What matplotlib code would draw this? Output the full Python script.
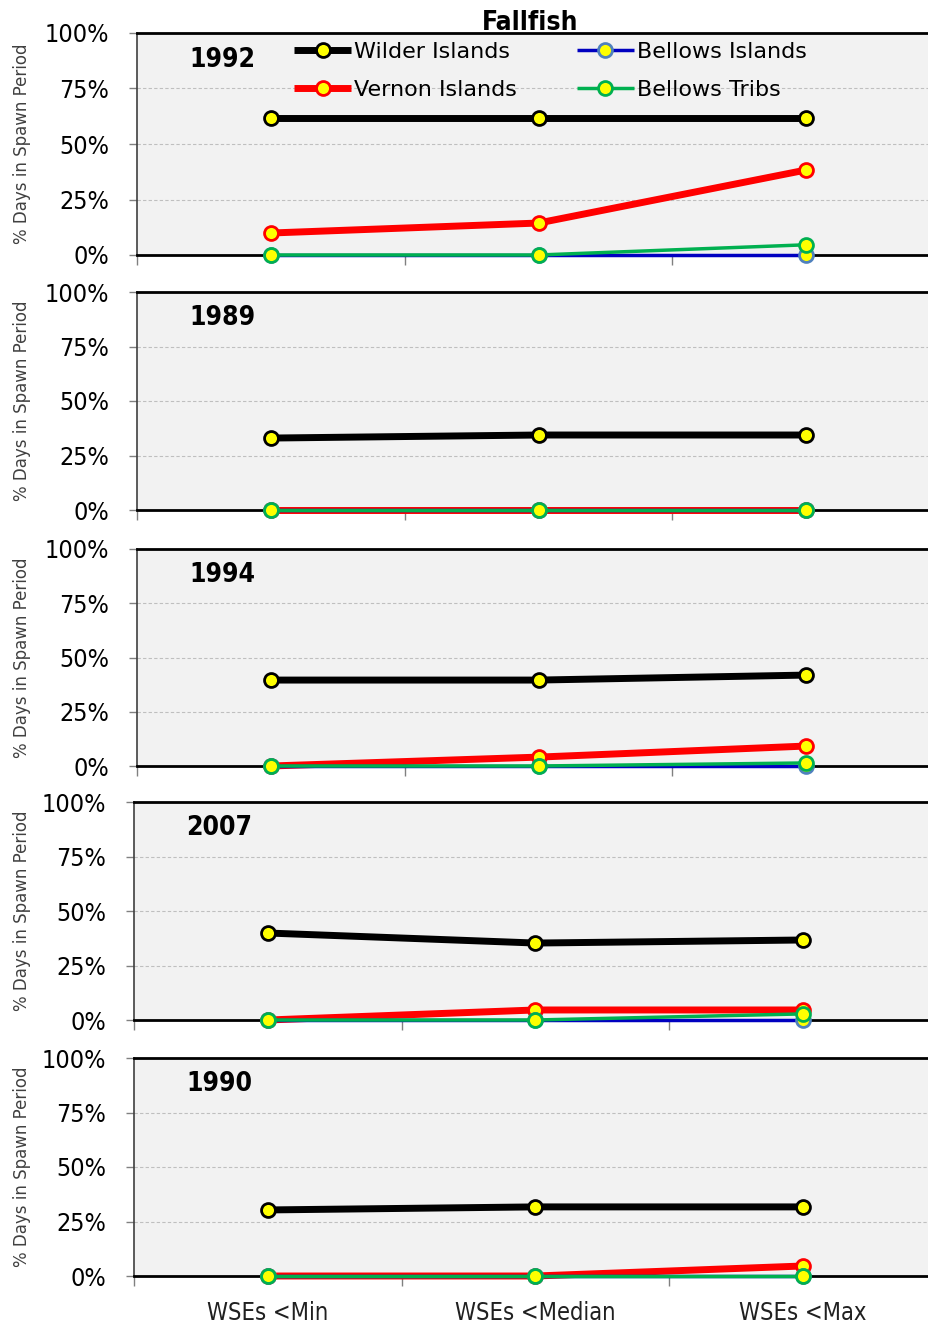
import numpy as np
import matplotlib
matplotlib.use('Agg')
import matplotlib.pyplot as plt
from matplotlib.ticker import FixedLocator

categories = ['WSEs <Min', 'WSEs <Median', 'WSEs <Max']
years = ['1992', '1989', '1994', '2007', '1990']
series = ['Wilder Islands', 'Vernon Islands', 'Bellows Islands', 'Bellows Tribs']

wilder = [[61.7, 61.7, 61.7], [33.0, 34.4, 34.4], [39.6, 39.6, 41.9], [39.9, 35.3, 36.7], [30.3, 31.7, 31.7]]
vernon = [[9.9, 14.4, 38.3], [0, 0, 0], [0, 4.1, 9.2], [0, 4.6, 4.6], [0, 0, 4.6]]
bellows_isl = [[0, 0, 0], [0, 0, 0], [0, 0, 0], [0, 0, 0], [0, 0, 0]]
bellows_tribs = [[0, 0, 4.6], [0, 0, 0], [0, 0, 1.4], [0, 0, 2.8], [0, 0, 0]]

styles = {
    'Wilder Islands': dict(color='black', lw=5, mec='black'),
    'Vernon Islands': dict(color='#FF0000', lw=5, mec='#FF0000'),
    'Bellows Islands': dict(color='#0000C0', lw=2.5, mec='#4F81BD'),
    'Bellows Tribs': dict(color='#00B050', lw=2.5, mec='#00B050'),
}

plt.rcParams['font.family'] = ['DejaVu Sans']

W, H = 929, 1325
fig = plt.figure(figsize=(W / 100, H / 100), dpi=100)

# pixel boxes (top, bottom, left) of each panel
boxes = [(33, 255, 137), (292, 510, 137), (549, 766, 137), (802, 1020, 134), (1058, 1276, 134)]
x = np.arange(len(categories))

for i, yr in enumerate(years):
    top, bot, left = boxes[i]
    right = left + 803
    ax = fig.add_axes([left / W, 1 - bot / H, (right - left) / W, (bot - top) / H])
    ax.set_facecolor('#F2F2F2')
    data = {'Wilder Islands': wilder[i], 'Vernon Islands': vernon[i],
            'Bellows Islands': bellows_isl[i], 'Bellows Tribs': bellows_tribs[i]}
    for name in series:
        st = styles[name]
        ax.plot(x, data[name], color=st['color'], lw=st['lw'], marker='o', ms=10,
                mfc='#FFFF00', mec=st['mec'], mew=2, label=name, solid_capstyle='butt',
                clip_on=False, zorder=3)
    ax.set_xlim(-0.5, 2.5)
    ax.set_ylim(0, 100)
    ax.set_yticks([0, 25, 50, 75, 100])
    ax.set_yticklabels(['0%', '25%', '50%', '75%', '100%'], fontsize=18, fontstretch='condensed')
    ax.yaxis.grid(True, ls=(0, (3, 2)), color='#BFBFBF', lw=0.8)
    ax.set_axisbelow(True)
    ax.set_xticks(x)
    ax.xaxis.set_minor_locator(FixedLocator([-0.5, 0.5, 1.5, 2.5]))
    ax.tick_params(axis='x', which='major', length=0, pad=18)
    ax.tick_params(axis='x', which='minor', length=7, width=1, color='#808080', direction='out')
    ax.tick_params(axis='y', length=6, width=1, color='#808080', direction='out', pad=14)
    if i == len(years) - 1:
        ax.set_xticklabels(categories, fontsize=17, color='#202020', fontstretch='condensed')
    else:
        ax.set_xticklabels([])
    for s in ['top', 'bottom']:
        ax.spines[s].set_linewidth(2)
        ax.spines[s].set_color('black')
    ax.spines['left'].set_linewidth(1.2)
    ax.spines['left'].set_color('#404040')
    ax.spines['right'].set_visible(False)
    ax.set_ylabel('% Days in Spawn Period', fontsize=12, color='#404040')
    ax.yaxis.set_label_coords((31 - left) / (right - left), 0.5)
    ax.text(0.065, 0.88, yr, transform=ax.transAxes, fontsize=19, fontweight='bold',
            fontstretch='condensed', va='center')
    if i == 0:
        ax.legend(ncol=2, loc='upper left', bbox_to_anchor=(0.184, 1.0), frameon=False,
                  fontsize=16, handlelength=2.6, handletextpad=0.1, columnspacing=2.7,
                  labelspacing=0.8, borderaxespad=0)
        ax.set_title('Fallfish', fontsize=19, fontweight='bold', fontstretch='condensed',
                     x=0.49, y=0.975)

fig.savefig('out.png', dpi=100, facecolor='white')
